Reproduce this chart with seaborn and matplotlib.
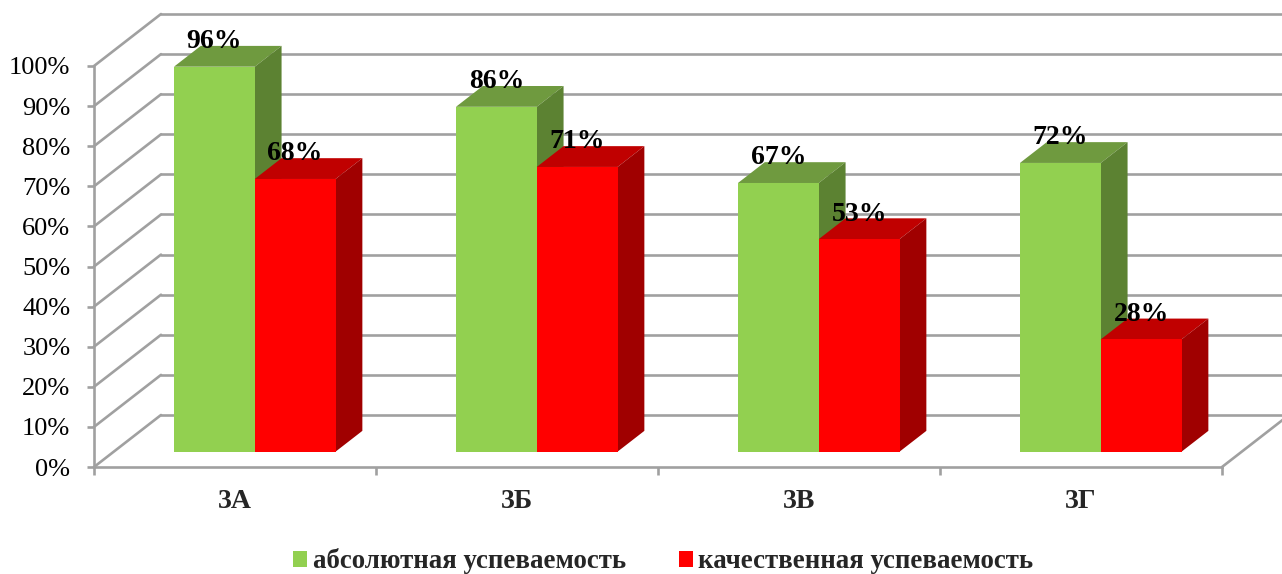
import matplotlib
matplotlib.use('Agg')
import matplotlib.pyplot as plt
import matplotlib.ticker as mtick
from matplotlib.patches import Polygon
from matplotlib.transforms import Affine2D
import pandas as pd
import seaborn as sns

classes = ['3А', '3Б', '3В', '3Г']
absolute = [96, 86, 67, 72]
quality = [68, 71, 53, 28]
series_names = ['абсолютная успеваемость', 'качественная успеваемость']
y_ticks = [0, 10, 20, 30, 40, 50, 60, 70, 80, 90, 100]

front_colors = ['#92D050', '#FF0000']
side_colors = ['#5C8232', '#A00000']
top_colors = ['#6F9A3F', '#C00000']
grid_color = '#A0A0A0'

# depth of the box in pixels, the bars stand part of the way in
DEPTH_X, DEPTH_Y = 67, 52
BAR_NEAR = 0.295
BAR_FAR = 0.695

sns.set_style('white')
plt.rcParams['font.family'] = ['Liberation Serif', 'DejaVu Serif']

df = pd.DataFrame({'class': classes, series_names[0]: absolute, series_names[1]: quality})
df = df.melt(id_vars='class', var_name='series', value_name='value')

fig = plt.figure(figsize=(12.82, 5.74), dpi=100)
ax = fig.add_axes([94 / 1282, (574 - 467) / 574, (1222 - 94) / 1282, (467 - 66) / 574])

sns.barplot(data=df, x='class', y='value', hue='series', hue_order=series_names,
            palette=front_colors, width=0.573, gap=0, dodge=True, saturation=1,
            linewidth=0, ax=ax)
ax.set_xlim(-0.5, 3.5)
ax.set_ylim(0, 100)


def depth_shift(d):
    return ax.transData + Affine2D().translate(DEPTH_X * d, DEPTH_Y * d)


# walls and floor
for y in y_ticks:
    ax.plot([-0.5, 3.5], [y, y], color=grid_color, lw=1.9, transform=depth_shift(1),
            clip_on=False, zorder=1)
    x0, y0 = ax.transData.transform((-0.5, y))
    ax.plot([x0, x0 + DEPTH_X], [y0, y0 + DEPTH_Y], color=grid_color, lw=1.9,
            transform=None, clip_on=False, zorder=1)
x0, y0 = ax.transData.transform((3.5, 0))
ax.plot([x0, x0 + DEPTH_X], [y0, y0 + DEPTH_Y], color=grid_color, lw=1.9,
        transform=None, clip_on=False, zorder=1)

# front faces come from seaborn, sides and tops are built on their corners
dx = DEPTH_X * (BAR_FAR - BAR_NEAR)
dy = DEPTH_Y * (BAR_FAR - BAR_NEAR)
for h, container in enumerate(ax.containers):
    for bar in container:
        bar.set_transform(depth_shift(BAR_NEAR))
        bar.set_clip_on(False)
        bar.set_zorder(4 + 2 * h)
        x1, x2 = bar.get_x(), bar.get_x() + bar.get_width()
        tr = depth_shift(BAR_NEAR)
        (xl, yb), (xr, yt) = tr.transform([(x1, 0), (x2, bar.get_height())])
        top = [(xl, yt), (xr, yt), (xr + dx, yt + dy), (xl + dx, yt + dy)]
        side = [(xr, yb), (xr + dx, yb + dy), (xr + dx, yt + dy), (xr, yt)]
        ax.add_patch(Polygon(top, closed=True, fc=top_colors[h], ec='none', transform=None,
                             clip_on=False, zorder=3 + 2 * h))
        ax.add_patch(Polygon(side, closed=True, fc=side_colors[h], ec='none', transform=None,
                             clip_on=False, zorder=3 + 2 * h))
        ax.annotate(f'{bar.get_height():.0f}%', ((x1 + x2) / 2, bar.get_height()),
                    xytext=(DEPTH_X * BAR_NEAR, DEPTH_Y * BAR_NEAR + 25),
                    textcoords='offset pixels', ha='center', va='center',
                    fontsize=20, fontweight='bold', color='black', zorder=20,
                    annotation_clip=False)

sns.despine(ax=ax)
for side_name in ['left', 'bottom']:
    ax.spines[side_name].set_color(grid_color)
    ax.spines[side_name].set_linewidth(1.9)

ax.set_xlabel('')
ax.set_ylabel('')
ax.set_yticks(y_ticks)
ax.yaxis.set_major_formatter(mtick.PercentFormatter(decimals=0))
ax.tick_params(axis='y', left=True, length=5, width=1.9, color=grid_color, pad=12,
               labelsize=19, labelcolor='black')
ax.set_xticks([-0.5, 0.5, 1.5, 2.5, 3.5], minor=True)
ax.tick_params(axis='x', which='minor', bottom=True, length=6, width=1.9, color=grid_color)
ax.tick_params(axis='x', which='major', bottom=False, length=0, pad=16, labelsize=20)
for label in ax.get_xticklabels():
    label.set_fontweight('bold')

handles, labels = ax.get_legend_handles_labels()
ax.legend(handles, labels, loc='center', bbox_to_anchor=(663.5 / 1282, 1 - 561.5 / 574),
          bbox_transform=fig.transFigure, ncols=2, frameon=False,
          prop={'weight': 'bold', 'size': 19.4}, handlelength=0.52, handleheight=0.52,
          handletextpad=0.22, columnspacing=1.93, borderpad=0)

fig.savefig('out.png', dpi=100)
